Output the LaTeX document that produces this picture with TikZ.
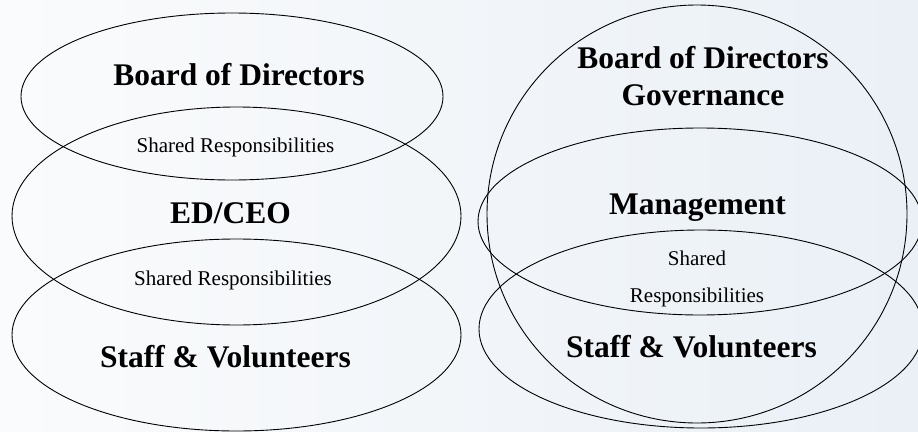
\documentclass[tikz,border=0pt]{standalone}
\usepackage{fontspec}
\setmainfont{Liberation Serif}
\definecolor{bgleft}{HTML}{FAFBFC}
\definecolor{bgmid}{HTML}{FFFFFF}
\definecolor{bgright}{HTML}{EAF0F6}
\begin{document}
\begin{tikzpicture}[x=1pt,y=-1pt,
  ring/.style={draw=black,line width=0.9pt},
  title/.style={anchor=base,inner sep=0pt,font=\fontsize{31.5}{34}\selectfont\bfseries},
  shared/.style={anchor=base,inner sep=0pt,font=\fontsize{21}{24}\selectfont}]
  % page and soft background
  \useasboundingbox (0,0) rectangle (918,431);
  \shade[left color=bgleft,middle color=bgmid,right color=bgright] (0,0) rectangle (918,431);
  \clip (0,0) rectangle (918,431);

  % left model: three stacked, overlapping ellipses
  \draw[ring] (232,96.5) ellipse [x radius=211pt, y radius=83.5pt];
  \draw[ring] (236.5,216) ellipse [x radius=224.5pt, y radius=109pt];
  \draw[ring] (236.5,335) ellipse [x radius=224.5pt, y radius=96pt];

  \node[title]  (board)  at (239,85)  {Board of Directors};
  \node[shared] (share1) at (235.5,152) {Shared Responsibilities};
  \node[title]  (ceo)    at (230.5,223) {ED/CEO};
  \node[shared] (share2) at (233,285) {Shared Responsibilities};
  \node[title]  (staff)  at (225.5,367) {Staff \& Volunteers};

  % right model: governance circle enclosing management and staff
  \draw[ring] (697,214) ellipse [x radius=210pt, y radius=209pt];
  \draw[ring] (700,221.5) ellipse [x radius=222pt, y radius=93.5pt];
  \draw[ring] (701,329) ellipse [x radius=222pt, y radius=99pt];

  \node[title]  (gboard) at (703,68)  {Board of Directors};
  \node[title]  (gov)    at (703,105) {Governance};
  \node[title]  (mgmt)   at (697.5,214) {Management};
  \node[shared] (gshare) at (697,265) {Shared};
  \node[shared] (gresp)  at (697,302) {Responsibilities};
  \node[title]  (gstaff) at (691.5,357) {Staff \& Volunteers};
\end{tikzpicture}
\end{document}
